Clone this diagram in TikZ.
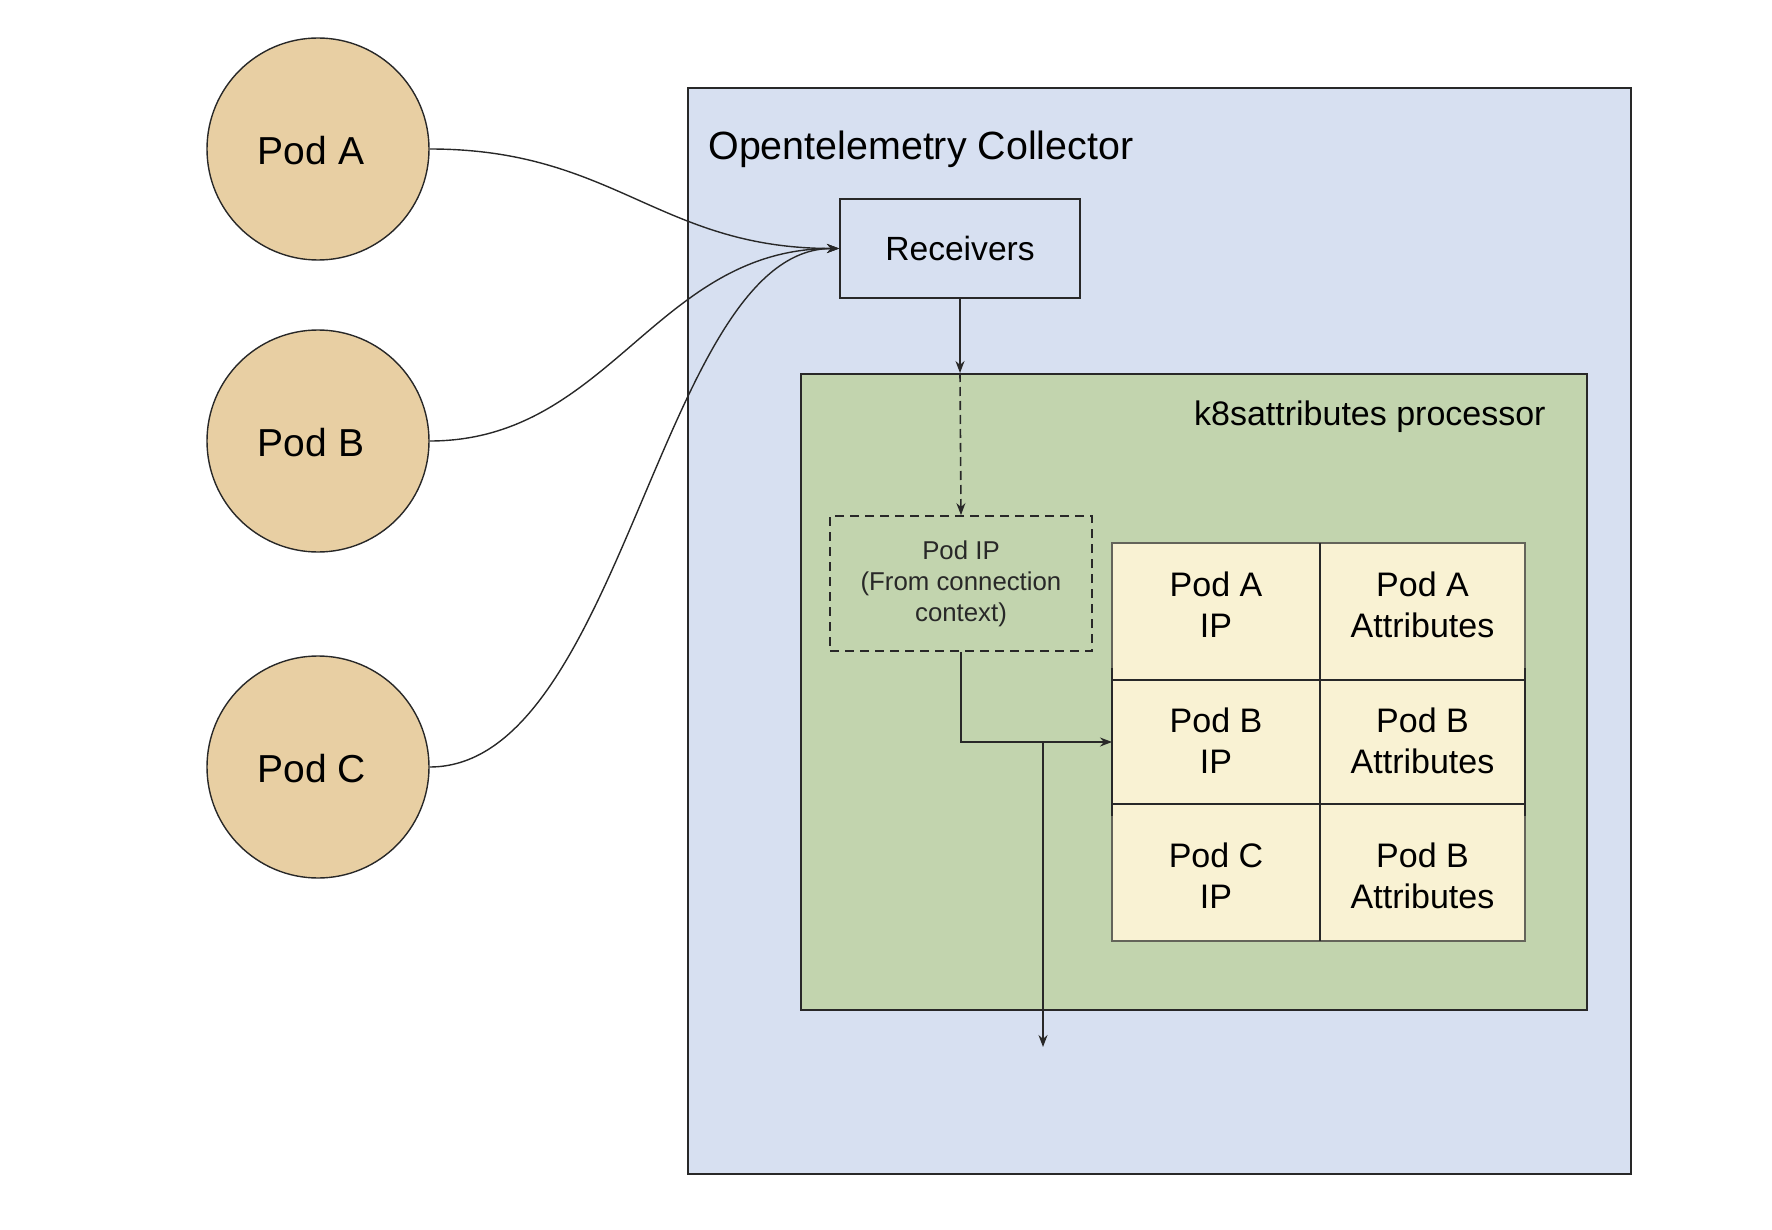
\documentclass[tikz,border=0pt]{standalone}
\usepackage{fontspec}
\setmainfont{Liberation Sans}
\usetikzlibrary{arrows.meta}
\definecolor{podfill}{RGB}{232,207,163}
\definecolor{collfill}{RGB}{215,224,241}
\definecolor{procfill}{RGB}{194,212,174}
\definecolor{cellfill}{RGB}{249,242,211}
\definecolor{edgecol}{RGB}{40,40,40}
\definecolor{celledge}{RGB}{100,100,90}
\tikzset{
  pod/.style={circle, draw=edgecol, line width=0.7pt, fill=podfill, minimum size=111pt, inner sep=0pt},
  podtext/.style={inner sep=0pt, font=\fontsize{19.5}{23.4}\selectfont},
  box/.style={draw=edgecol, line width=1pt, inner sep=0pt, rectangle},
  celltext/.style={inner sep=0pt, align=center, font=\fontsize{17}{20.5}\selectfont},
  tip/.style={-{Stealth[length=6pt,width=4.5pt]}},
  curve/.style={tip, line width=0.7pt, draw=edgecol},
  conn/.style={tip, line width=0.7pt, draw=edgecol},
}
\begin{document}
\begin{tikzpicture}[x=0.5pt,y=-0.5pt]
\useasboundingbox (0,0) rectangle (1772,1230);
% collector
\node (coll) [box, fill=collfill, minimum width=471.5pt, minimum height=543pt] at (1159.5,631) {};
\node (title) [anchor=base west, inner sep=0pt, font=\fontsize{19.7}{23.6}\selectfont] at (708,160) {Opentelemetry Collector};
\node (recv) [box, fill=collfill, minimum width=120pt, minimum height=49.5pt, font=\fontsize{16.8}{20}\selectfont] at (960,248.5) {Receivers};
% processor
\node (proc) [box, fill=procfill, minimum width=393pt, minimum height=318pt] at (1193.5,692) {};
\node (k8s) [anchor=base east, inner sep=0pt, font=\fontsize{17}{20.4}\selectfont] at (1546,425) {k8sattributes processor};
\node (podip) [draw=edgecol, line width=0.9pt, dash pattern=on 4.5pt off 3pt, inner sep=0pt, minimum width=131pt, minimum height=67.5pt,
  align=center, text=edgecol, font=\fontsize{12.9}{15.5}\selectfont] at (961,583.5) {Pod IP\\(From connection\\context)};
% table
\coordinate (tnw) at (1112,543);
\coordinate (tse) at (1525,941);
\coordinate (tin) at (1112,742);
\fill[cellfill] (tnw) rectangle (tse);
\draw[celledge, line width=0.7pt] (tnw) rectangle (tse);
\draw[edgecol, line width=1pt] (1320,543) -- (1320,941);
\draw[edgecol, line width=1pt] (1112,680) -- (1525,680);
\draw[edgecol, line width=1pt] (1112,804) -- (1525,804);
\draw[edgecol, line width=1pt] (1112,668) -- (1112,816);
\draw[edgecol, line width=1pt] (1525,668) -- (1525,816);
\node (t11) [celltext] at (1216,605) {Pod A\\IP};
\node (t12) [celltext] at (1422.5,605) {Pod A\\Attributes};
\node (t21) [celltext] at (1216,741) {Pod B\\IP};
\node (t22) [celltext] at (1422.5,741) {Pod B\\Attributes};
\node (t31) [celltext] at (1216,876) {Pod C\\IP};
\node (t32) [celltext] at (1422.5,876) {Pod B\\Attributes};
% pods
\node (podA) [pod] at (318,149) {};
\node (podB) [pod] at (318,441) {};
\node (podC) [pod] at (318,767) {};
\node (labA) [podtext] at (311,151) {Pod A};
\node (labB) [podtext] at (311,443) {Pod B};
\node (labC) [podtext] at (312,769) {Pod C};
% connectors
\draw[curve] (podA.east) .. controls +(185,0) and +(-180,0) .. (recv.west);
\draw[curve] (podB.east) .. controls +(180,0) and +(-183,0) .. (recv.west);
\draw[curve] (podC.east) .. controls +(193,0) and +(-178,0) .. (recv.west);
\coordinate (entry) at (recv.south |- proc.north);
\draw[conn] (recv.south) -- (entry);
\draw[conn, line width=0.8pt, dash pattern=on 4.5pt off 2.5pt] (entry) -- (podip.north);
\draw[conn] (podip.south) |- (tin);
\coordinate (split) at (1043,742);
\coordinate (out) at (1043,1047);
\draw[conn] (split) -- (out);
\end{tikzpicture}
\end{document}
